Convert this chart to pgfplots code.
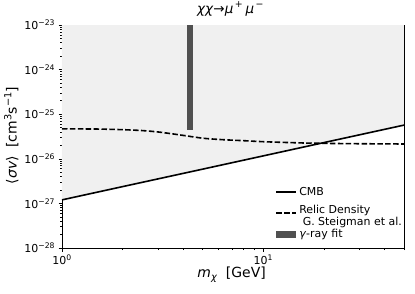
\documentclass[border=0pt]{standalone}
\usepackage{pgfplots}
\pgfplotsset{compat=1.18}
\usepackage{fontspec}
\setmainfont{DejaVu Sans}
\definecolor{fillgray}{RGB}{240,240,240}
\definecolor{bargray}{RGB}{80,80,80}
\begin{document}
\begin{tikzpicture}
\useasboundingbox (-62bp,-46bp) rectangle (353bp,248bp);
\begin{axis}[
  at={(0,0)}, anchor=south west,
  width=342bp, height=223bp, scale only axis,
  xmode=log, ymode=log,
  xmin=1, xmax=50, ymin=1e-28, ymax=1e-23,
  xtick={1,10},
  xticklabels={10\textsuperscript{0},10\textsuperscript{1}},
  minor xtick={2,3,4,5,6,7,8,9,20,30,40,50},
  ytick={1e-28,1e-27,1e-26,1e-25,1e-24,1e-23},
  yticklabels={10\textsuperscript{−28},10\textsuperscript{−27},10\textsuperscript{−26},10\textsuperscript{−25},10\textsuperscript{−24},10\textsuperscript{−23}},
  minor ytick={2e-28,3e-28,4e-28,5e-28,6e-28,7e-28,8e-28,9e-28,
               2e-27,3e-27,4e-27,5e-27,6e-27,7e-27,8e-27,9e-27,
               2e-26,3e-26,4e-26,5e-26,6e-26,7e-26,8e-26,9e-26,
               2e-25,3e-25,4e-25,5e-25,6e-25,7e-25,8e-25,9e-25,
               2e-24,3e-24,4e-24,5e-24,6e-24,7e-24,8e-24,9e-24},
  tick align=outside, tick pos=left,
  major tick length=3.5bp, minor tick length=2bp,
  every tick/.style={black, line width=0.6pt},
  axis line style={line width=0.8pt},
  tick label style={font=\fontsize{11}{12}\selectfont},
  title={\textit{χχ}→\textit{μ}\textsuperscript{\,+}\,\textit{μ}\textsuperscript{\,−}},
  title style={at={(axis description cs:0.493,1.045)}, anchor=center, font=\fontsize{13.5}{15}\selectfont},
  xlabel={\textit{m}\textsubscript{\textit{χ}}\hspace{0.6em}[GeV]},
  xlabel style={at={(axis description cs:0.496,-0.12)}, anchor=center, font=\fontsize{14}{16}\selectfont},
  ylabel={⟨\textit{σv}⟩\hspace{0.6em}[cm\textsuperscript{3}s\textsuperscript{−1}]},
  ylabel style={at={(axis description cs:-0.148,0.505)}, anchor=center, rotate=0, font=\fontsize{14}{16}\selectfont},
  legend style={draw=none, fill=none, at={(1.0,0.03)}, anchor=south east,
    font=\fontsize{11}{13}\selectfont, inner sep=0pt, row sep=4bp,
    /tikz/every even column/.append style={column sep=9bp}},
  legend cell align=left,
  legend image code/.code={\draw[#1] (0bp,0bp) -- (20bp,0bp);},
]
\addplot[fill=fillgray, draw=none, forget plot] coordinates {
  (1,1.2e-27) (2,2.38e-27) (5,5.87e-27) (10,1.164e-26) (20,2.31e-26) (50,5.7e-26)
  (50,1e-23) (1,1e-23)} -- cycle;
\addplot[black, line width=1.6bp] coordinates {
  (1,1.2e-27) (2,2.38e-27) (5,5.87e-27) (10,1.164e-26) (20,2.31e-26) (50,5.7e-26)};
\addlegendentry{CMB}
\addplot[black, line width=1.6bp, dash pattern=on 5.5bp off 2.4bp, smooth] coordinates {
  (1,4.7e-26) (1.5,4.65e-26) (2,4.5e-26) (2.5,4.3e-26) (3,4.0e-26) (3.5,3.65e-26)
  (4,3.35e-26) (5,2.9e-26) (6,2.72e-26) (7,2.62e-26) (8,2.55e-26) (10,2.42e-26)
  (15,2.28e-26) (20,2.22e-26) (30,2.18e-26) (50,2.15e-26)};
\addlegendentry{\begin{tabular}{@{}l@{}}Relic Density\\[-1.5bp]\hspace{0.32em}G. Steigman et al.\end{tabular}}
\addplot[fill=bargray, draw=none,
  legend image code/.code={\fill[bargray] (0bp,-3.5bp) rectangle (20bp,3.5bp);}]
  coordinates {(4.2,4.5e-26) (4.45,4.5e-26) (4.45,1e-22) (4.2,1e-22)} -- cycle;
\addlegendentry{\textit{γ}-ray fit}
\end{axis}
\end{tikzpicture}
\end{document}
